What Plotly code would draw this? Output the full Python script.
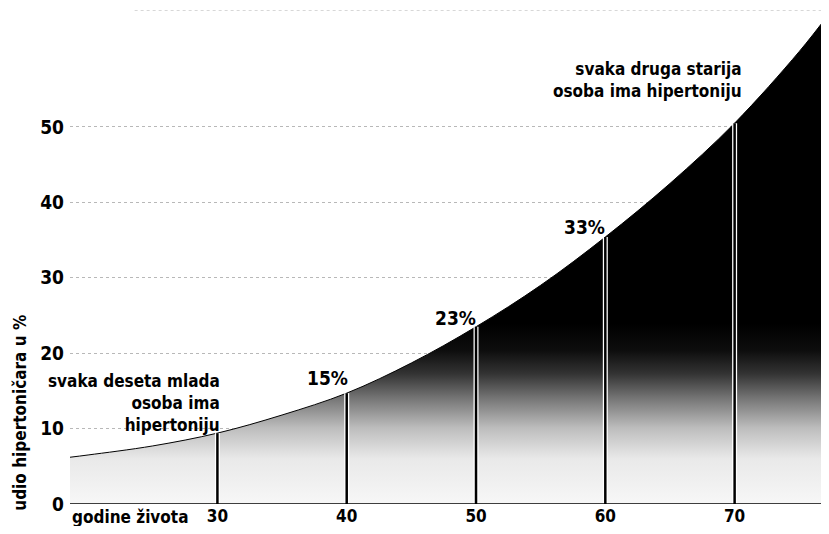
import plotly.graph_objects as go

# Data
ages = [18.6, 20, 25, 30, 35, 40, 45, 50, 55, 60, 65, 70, 75, 77.3]
share = [6.2, 6.5, 7.7, 9.4, 11.8, 14.7, 18.7, 23.5, 29.0, 35.4, 42.5, 50.5, 60.0, 65.0]

marker_ages = [30, 40, 50, 60, 70]
marker_share = [9.4, 14.7, 23.5, 35.4, 50.5]

pct_labels = ["15%", "23%", "33%"]
pct_x = [38.5, 48.4, 58.4]
pct_y = [16.7, 24.7, 36.7]

x_ticks = [30, 40, 50, 60, 70]
y_ticks = [0, 10, 20, 30, 40, 50]

FONT = "DejaVu Sans Condensed, Liberation Sans Narrow, Arial Narrow, sans-serif"
X_MIN, X_MAX = 18.6, 76.68
Y_MAX = 65.5

fig = go.Figure()

fig.add_trace(go.Scatter(
    x=ages, y=share, mode="lines", line=dict(color="black", width=1, shape="spline"),
    fill="tozeroy",
    fillgradient=dict(
        type="vertical", start=0, stop=24,
        colorscale=[[0, "#f7f7f7"], [0.25, "#e9e9e9"], [0.42, "#bdbdbd"],
                    [0.58, "#777777"], [0.72, "#333333"], [0.85, "#0d0d0d"], [1, "#000000"]],
    ),
    hoverinfo="skip", showlegend=False,
))

# vertical marker lines (white casing + black core)
for a, v in zip(marker_ages, marker_share):
    fig.add_trace(go.Scatter(x=[a, a], y=[0, v], mode="lines",
                             line=dict(color="white", width=5), showlegend=False, hoverinfo="skip"))
    fig.add_trace(go.Scatter(x=[a, a], y=[0, v], mode="lines",
                             line=dict(color="black", width=2.5), showlegend=False, hoverinfo="skip"))

# baseline
fig.add_shape(type="line", x0=X_MIN, x1=X_MAX, y0=0, y1=0, xref="x", yref="y",
              line=dict(color="black", width=1.5))
# top dotted frame line
fig.add_shape(type="line", x0=23.6, x1=X_MAX, y0=Y_MAX, y1=Y_MAX, xref="x", yref="y",
              line=dict(color="#b0b0b0", width=1, dash="dot"), layer="below")

BOLD = dict(family=FONT, color="black", weight="bold")

annotations = []
for t, x, y in zip(pct_labels, pct_x, pct_y):
    annotations.append(dict(x=x, y=y, text=t, showarrow=False,
                            font=dict(BOLD, size=19), xanchor="center", yanchor="middle"))

annotations.append(dict(x=30.35, y=13.4, xref="x", yref="y",
                        text="svaka deseta mlada<br>osoba ima<br>hipertoniju",
                        showarrow=False, align="right", xanchor="right", yanchor="middle",
                        font=dict(BOLD, size=17)))
annotations.append(dict(x=70.7, y=56.2, xref="x", yref="y",
                        text="svaka druga starija<br>osoba ima hipertoniju",
                        showarrow=False, align="right", xanchor="right", yanchor="middle",
                        font=dict(BOLD, size=17)))
annotations.append(dict(x=0, y=0, xref="paper", yref="paper", text="godine života",
                        showarrow=False, xanchor="left", yanchor="top", yshift=-1,
                        font=dict(BOLD, size=17)))
annotations.append(dict(x=-0.0666, y=12.1, xref="paper", yref="y", text="udio hipertoničara u %",
                        showarrow=False, textangle=-90, xanchor="center", yanchor="middle",
                        font=dict(BOLD, size=17)))

fig.update_layout(
    width=813, height=518,
    margin=dict(l=62, r=0, t=2, b=22),
    paper_bgcolor="white", plot_bgcolor="white",
    font=dict(family=FONT, color="black"),
    annotations=annotations,
    xaxis=dict(range=[X_MIN, X_MAX], tickvals=x_ticks, ticktext=[str(v) for v in x_ticks],
               showgrid=False, zeroline=False, showline=False, ticks="",
               ticklabelstandoff=0,
               tickfont=dict(BOLD, size=17)),
    yaxis=dict(range=[0, Y_MAX], tickvals=y_ticks, showgrid=True, gridcolor="#b8b8b8",
               griddash="dot", gridwidth=1, zeroline=False, showline=False, ticks="",
               ticklabelstandoff=5,
               tickfont=dict(BOLD, size=19)),
)

fig.write_html("out.html")
